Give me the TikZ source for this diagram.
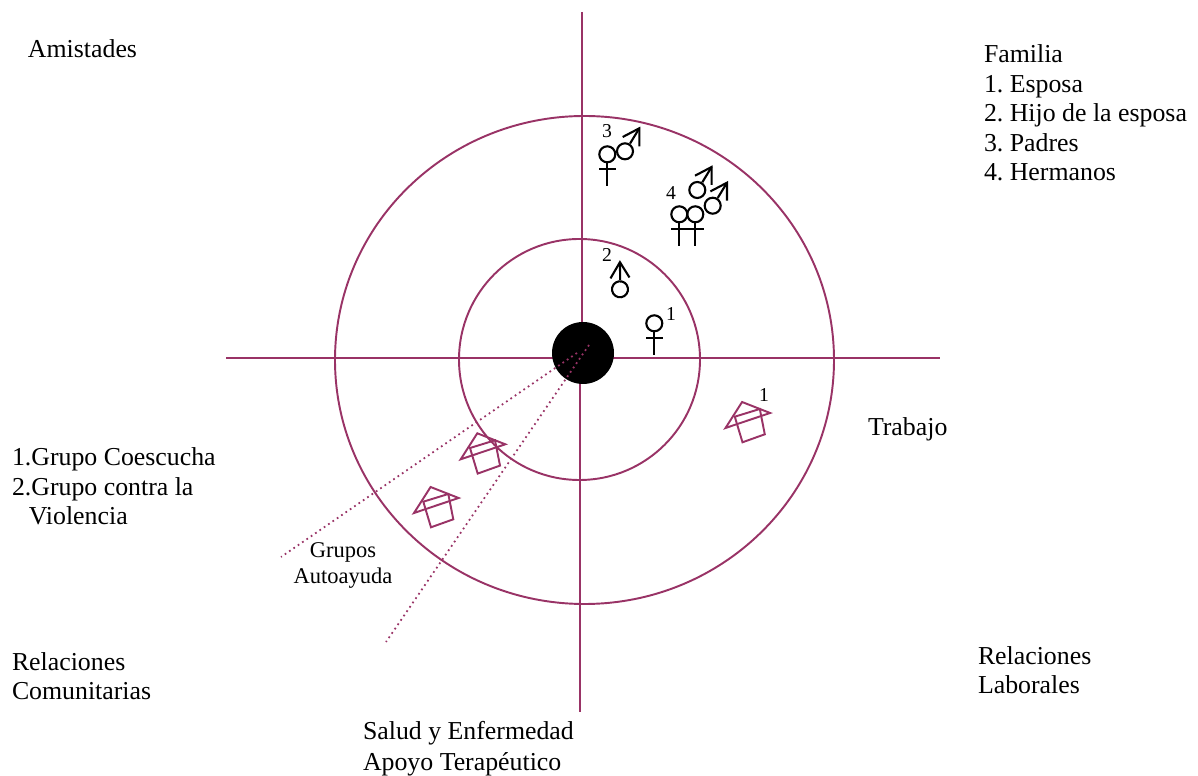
\documentclass[tikz,border=0pt]{standalone}
\usepackage{fontspec}
\usetikzlibrary{shapes.geometric}
\setmainfont{Liberation Serif}
\frenchspacing
\definecolor{lineacolor}{HTML}{993366}
\tikzset{
  every label text/.style={inner sep=0pt,outer sep=0pt,align=left,anchor=base west,
    font=\fontsize{14.7}{16.8}\selectfont},
  small text/.style={inner sep=0pt,outer sep=0pt,anchor=base,font=\fontsize{11.2}{12}\selectfont},
  ring/.style={draw=lineacolor,line width=1.1pt},
  axis line/.style={draw=lineacolor,line width=1.1pt},
  group line/.style={draw=lineacolor,line width=1pt,dotted},
  pics/female/.style={code={
    \draw[line width=1.2pt] (0,0) circle (8);
    \draw[line width=1.2pt] (0,8) -- (0,31.7);
    \draw[line width=1.2pt] (-8.2,15) -- (8.2,15);
  }},
  pics/male/.style={code={
    \draw[line width=1.2pt] (0,0) circle (8);
    \draw[line width=1.2pt] (5,-7.7) -- (14.3,-23);
    \draw[line width=1.2pt] (-2.3,-14.3) -- (14.3,-23) -- (14.3,-5);
  }},
  pics/house/.style={code={
    \draw[draw=lineacolor,line width=1.1pt] (0,0) -- (16.6,-26) -- (44.6,-15) -- cycle;
    \draw[draw=lineacolor,line width=1.1pt] (9.3,-11.3) -- (17,14.3) -- (39.3,6.3) -- (34.3,-19)
      -- cycle;
  }},
}
\begin{document}
\begin{tikzpicture}[x=0.02cm,y=-0.02cm]
\useasboundingbox (0,0) rectangle (1198,776);

% circulos
\node [ring,circle,minimum width=241*0.02cm,inner sep=0pt] (inner) at (579.5,359.5) {};
\node [ring,ellipse,minimum width=499*0.02cm,minimum height=488*0.02cm,inner sep=0pt] (outer) at (584.5,360) {};

% ejes
\coordinate (top) at (582,12);
\coordinate (bottom) at (580,712);
\coordinate (left) at (226,358);
\coordinate (right) at (940,358);
\draw [axis line] (left) -- (right);
\draw [axis line] (top) -- (582,358);
\draw [axis line] (580,358) -- (bottom);

\node [circle,fill=black,minimum width=62*0.02cm,inner sep=0pt] (ego) at (583,353) {};

% lineas punteadas
\coordinate (dot-a) at (577,353);
\coordinate (dot-b) at (589,345);
\coordinate (end-a) at (281,557);
\coordinate (end-b) at (386,642);
\draw [group line] (dot-a) -- (end-a);
\draw [group line] (dot-b) -- (end-b);

% casas
\foreach \x/\y [count=\i] in {460.7/459.3,414/513,725.5/428}
  \pic (house-\i) at (\x,\y) {house};

% familia
\pic (mother) at (607.3,154.3) {female};
\pic (father) at (625,151.3) {male};
\foreach \x [count=\i] in {679.3,695.3}
  \pic (sister-\i) at (\x,214.3) {female};
\foreach \x/\y [count=\i] in {697.3/190,712.7/205.7}
  \pic (brother-\i) at (\x,\y) {male};
\pic (wife) at (654.3,323.3) {female};
\pic [rotate=32] (son) at (620,289.3) {male};

% numeros
\foreach \t/\x/\y [count=\i] in {3/607/138,4/671/200,2/607/262,1/671/321,1/764/402}
  \node [small text] (num-\i) at (\x,\y) {\t};

% textos
\node [every label text] (amistades) at (28,58) {Amistades};
\node [every label text] (familia) at (984,181) {Familia\\1. Esposa\\2. Hijo de la esposa\\3. Padres\\4. Hermanos};
\node [every label text] (trabajo) at (868,436) {Trabajo};
\node [every label text] (grupos) at (12,525) {1.Grupo Coescucha\\2.Grupo contra la\\\hspace*{9.6pt}Violencia};
\node [every label text] (comunitarias) at (12,700) {Relaciones\\Comunitarias};
\node [every label text] (laborales) at (978,694) {Relaciones\\Laborales};
\node [every label text] (salud) at (363,771) {Salud y Enfermedad\\[1.2pt]Apoyo Terapéutico};
\node [small text,align=center,font=\fontsize{12.8}{14.7}\selectfont] (autoayuda) at (343,584) {Grupos\\[0.6pt]Autoayuda};

\end{tikzpicture}
\end{document}
